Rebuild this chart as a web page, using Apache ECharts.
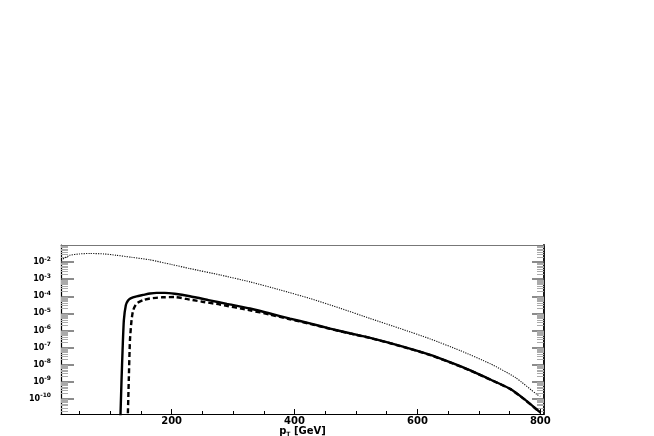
<!DOCTYPE html>
<html>
<head>
<meta charset="utf-8">
<script src="https://cdn.jsdelivr.net/npm/echarts@6/dist/echarts.min.js"></script>
<style>
  html, body { margin: 0; padding: 0; background: #fff; }
  #chart { width: 654px; height: 436px; }
</style>
</head>
<body>
<div id="chart"></div>
<script>
// ---- data ----
const solidPt   = [116.5, 118.5, 120.2, 122.3, 125.5, 128.8, 133.2, 143, 153.7, 165, 175.6, 189, 205, 229.8, 260, 290, 327.6, 360, 392.8, 425, 458, 490, 523.2, 572, 621, 655, 686.2, 718.8, 751.4, 775, 800];
const solidVal  = [5e-12, 1.2e-9, 7e-8, 4e-6, 3e-5, 5.5e-5, 7.6e-5, 1.0e-4, 1.2e-4, 1.45e-4, 1.58e-4, 1.58e-4, 1.4e-4, 1.0e-4, 6e-5, 3.6e-5, 1.92e-5, 9.8e-6, 4.97e-6, 2.6e-6, 1.28e-6, 6.9e-7, 3.7e-7, 1.26e-7, 3.73e-8, 1.3e-8, 4.6e-9, 1.35e-9, 3.77e-10, 9e-11, 1.6e-11];

const dashedPt  = [128.5, 130.3, 132.2, 134.8, 137.4, 143, 153.7, 164.6, 185, 205, 229.8, 250, 278.7, 327.6, 360, 392.8, 425, 458, 490, 523.2, 572, 621, 655, 686.2, 718.8, 751.4, 775, 800];
const dashedVal = [5e-12, 1.2e-9, 2.6e-7, 4e-6, 1.5e-5, 3.8e-5, 5.9e-5, 7.4e-5, 8.7e-5, 9.0e-5, 6.4e-5, 4.8e-5, 3.3e-5, 1.5e-5, 8.5e-6, 4.5e-6, 2.45e-6, 1.24e-6, 6.7e-7, 3.6e-7, 1.23e-7, 3.65e-8, 1.27e-8, 4.5e-9, 1.32e-9, 3.7e-10, 8.8e-11, 1.55e-11];

const dottedPt  = [20, 34.3, 50, 66.9, 90, 110.4, 135, 164.6, 200, 229.8, 278.7, 327.6, 376.5, 425.4, 474.3, 523.2, 572, 620.9, 669.8, 718.7, 759.4, 794.7, 800];
const dottedVal = [1.3e-2, 2.5e-2, 3.0e-2, 3.2e-2, 3.0e-2, 2.5e-2, 1.9e-2, 1.36e-2, 7.2e-3, 4.17e-3, 1.78e-3, 6.98e-4, 2.36e-4, 7.4e-5, 2.0e-5, 5.0e-6, 1.3e-6, 3.2e-7, 6.6e-8, 1.13e-8, 1.78e-9, 1.78e-10, 1.4e-10];

const xTickLabels = [200, 400, 600, 800];
const xMinorTicks = [50, 100, 150, 250, 300, 350, 450, 500, 550, 650, 700, 750];
const yTickExps   = [-10, -9, -8, -7, -6, -5, -4, -3, -2];

const xMin = 20, xMax = 806;
const yMin = 1.3e-11, yMax = 0.1;

// ---- build ----
const lgMin = Math.log10(yMin), lgMax = Math.log10(yMax);
const yMinorTicks = [];
for (let n = -12; n <= 0; n++) {
  for (let k = 2; k <= 9; k++) {
    const v = n + Math.log10(k);
    if (v > lgMin && v < lgMax) yMinorTicks.push(v);
  }
}
const zip = (a, b) => a.map((x, i) => [x, b[i]]);
const FONT = '"DejaVu Sans", "Liberation Sans", sans-serif';

const chart = echarts.init(document.getElementById('chart'), null, { renderer: 'canvas' });

const hiddenValueAxis = (extra) => Object.assign({
  type: 'value', gridIndex: 0, min: lgMin, max: lgMax,
  axisLine: { show: false, onZero: false },
  axisTick: { show: false },
  axisLabel: { show: false },
  splitLine: { show: false }
}, extra);

const option = {
  animation: false,
  backgroundColor: '#ffffff',
  grid: { left: 61, right: 110, top: 245, bottom: 22, containLabel: false, outerBoundsMode: 'none' },
  xAxis: [
    {
      type: 'value', min: xMin, max: xMax, position: 'bottom',
      axisLine: { show: true, onZero: false, lineStyle: { color: '#000', width: 1.2 } },
      axisTick: { show: true, inside: true, length: 5, customValues: xTickLabels, lineStyle: { color: '#000', width: 1 } },
      axisLabel: { show: true, customValues: xTickLabels, margin: 2, color: '#000', fontFamily: FONT, fontWeight: 'bold', fontSize: 10 },
      splitLine: { show: false },
      name: '{p|p}{t|T}{n| [GeV]}',
      nameLocation: 'middle', nameGap: 9,
      nameTextStyle: {
        color: '#000', fontFamily: FONT, fontWeight: 'bold', fontSize: 9,
        rich: {
          p: { fontFamily: FONT, fontWeight: 'bold', fontSize: 10, lineHeight: 12, color: '#000' },
          t: { fontFamily: FONT, fontWeight: 'bold', fontSize: 6, lineHeight: 6, verticalAlign: 'bottom', color: '#000' },
          n: { fontFamily: FONT, fontWeight: 'bold', fontSize: 10, lineHeight: 12, color: '#000' }
        }
      }
    },
    {
      type: 'value', min: xMin, max: xMax, position: 'bottom',
      axisLine: { show: false, onZero: false },
      axisTick: { show: true, inside: true, length: 3, customValues: xMinorTicks, lineStyle: { color: '#000', width: 1 } },
      axisLabel: { show: false },
      splitLine: { show: false }
    },
    {
      type: 'value', min: xMin, max: xMax, position: 'top',
      axisLine: { show: true, onZero: false, lineStyle: { color: '#777', width: 1 } },
      axisTick: { show: false },
      axisLabel: { show: false },
      splitLine: { show: false }
    }
  ],
  yAxis: [
    {
      type: 'log', logBase: 10, min: yMin, max: yMax, position: 'left',
      axisLine: { show: false, onZero: false },
      axisTick: { show: false },
      axisLabel: { show: false },
      splitLine: { show: false }
    },
    hiddenValueAxis({
      position: 'left',
      axisLine: { show: true, onZero: false, lineStyle: { color: '#000', width: 1.2 } },
      axisTick: { show: true, inside: true, length: 13, customValues: yTickExps, lineStyle: { color: '#666', width: 1.5 } },
      axisLabel: {
        show: true, customValues: yTickExps, margin: 10,
        formatter: (v) => '{b|10}{s|' + Math.round(v) + '}',
        rich: {
          b: { fontFamily: FONT, fontWeight: 'bold', fontSize: 8, lineHeight: 12, color: '#000' },
          s: { fontFamily: FONT, fontWeight: 'bold', fontSize: 6, lineHeight: 6, verticalAlign: 'top', color: '#000' }
        }
      }
    }),
    hiddenValueAxis({
      position: 'left',
      axisTick: { show: true, inside: true, length: 7, customValues: yMinorTicks, lineStyle: { color: '#aaa', width: 1 } }
    }),
    hiddenValueAxis({
      position: 'right',
      axisLine: { show: true, onZero: false, lineStyle: { color: '#000', width: 1.8 } },
      axisTick: { show: true, inside: true, length: 12, customValues: yTickExps, lineStyle: { color: '#666', width: 1.5 } }
    }),
    hiddenValueAxis({
      position: 'right',
      axisTick: { show: true, inside: true, length: 7, customValues: yMinorTicks, lineStyle: { color: '#aaa', width: 1 } }
    })
  ],
  series: [
    {
      name: 'dotted', type: 'line', xAxisIndex: 0, yAxisIndex: 0,
      data: zip(dottedPt, dottedVal), showSymbol: false, symbol: 'none',
      smooth: 0.2, clip: true,
      lineStyle: { color: '#111', width: 1.1, type: [1.2, 1.2] }
    },
    {
      name: 'dashed', type: 'line', xAxisIndex: 0, yAxisIndex: 0,
      data: zip(dashedPt, dashedVal), showSymbol: false, symbol: 'none',
      smooth: 0.2, clip: true,
      lineStyle: { color: '#000', width: 2.4, type: [5, 3] }
    },
    {
      name: 'solid', type: 'line', xAxisIndex: 0, yAxisIndex: 0,
      data: zip(solidPt, solidVal), showSymbol: false, symbol: 'none',
      smooth: 0.2, clip: true,
      lineStyle: { color: '#000', width: 2.4, type: 'solid' }
    }
  ]
};
chart.setOption(option);
</script>
</body>
</html>
